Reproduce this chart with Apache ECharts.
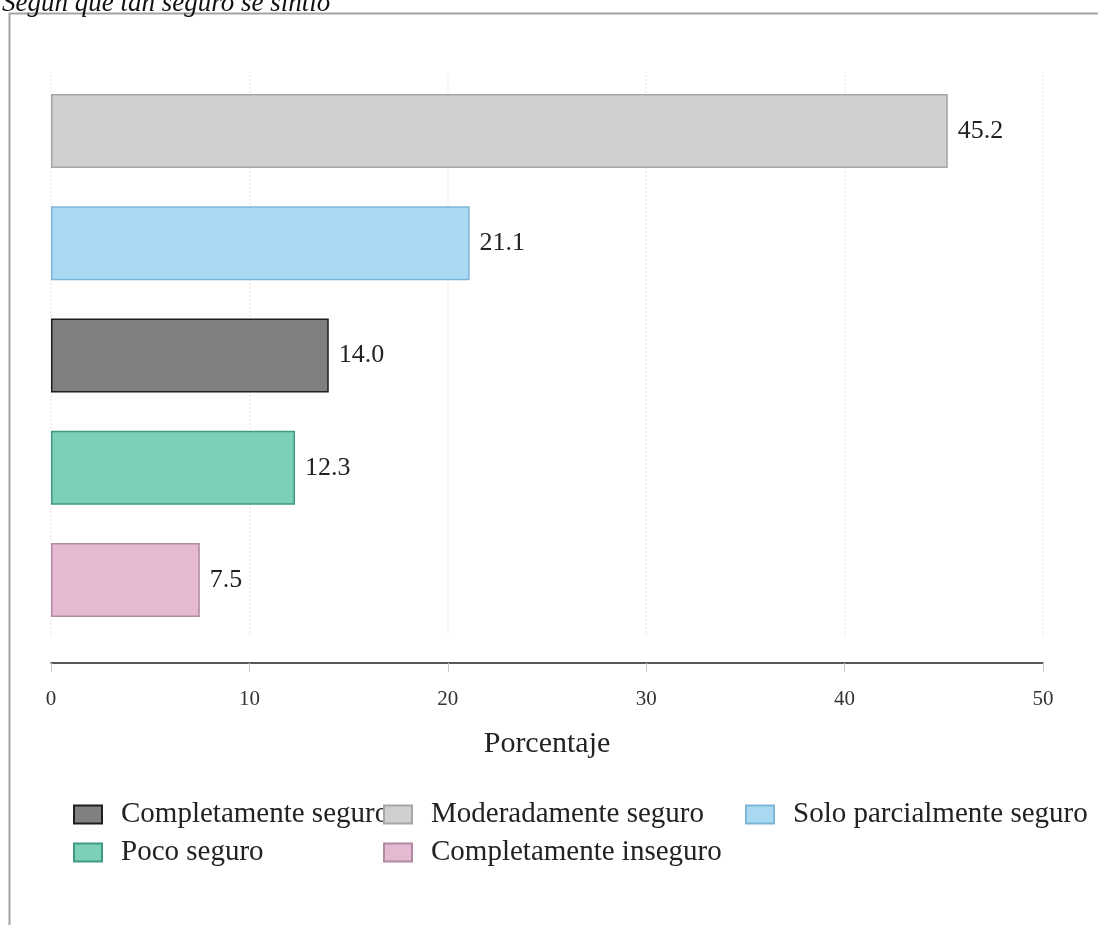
<!DOCTYPE html>
<html>
<head>
<meta charset="utf-8">
<script src="https://cdn.jsdelivr.net/npm/echarts@6/dist/echarts.min.js"></script>
<style>
  html, body { margin: 0; padding: 0; background: #fff; }
  #chart { width: 1098px; height: 925px; }
</style>
</head>
<body>
<div id="chart"></div>
<script>
// categories from bottom to top
const categories = ["Completamente inseguro", "Poco seguro", "Completamente seguro", "Solo parcialmente seguro", "Moderadamente seguro"];
const values = [7.5, 12.3, 14.0, 21.1, 45.2];
const xTicks = [0, 10, 20, 30, 40, 50];
// legend order as in the picture
const legendOrder = ["Completamente seguro", "Moderadamente seguro", "Solo parcialmente seguro", "Poco seguro", "Completamente inseguro"];

const fills = {
  "Completamente seguro": ["#808080", "#1e1e1e"],
  "Moderadamente seguro": ["#d0d0d0", "#a6a6a6"],
  "Solo parcialmente seguro": ["#a9d9f3", "#7db6d6"],
  "Poco seguro": ["#7dd0b8", "#3f9a80"],
  "Completamente inseguro": ["#e5b9d1", "#b08aa2"]
};

const FONT = "Liberation Serif";

// one series per category so every bar has its own legend entry
const series = categories.map(function (name, i) {
  return {
    name: name,
    type: "bar",
    stack: "all",
    barWidth: 74,
    data: categories.map(function (c, j) { return j === i ? values[i] : "-"; }),
    itemStyle: { color: fills[name][0], borderColor: fills[name][1], borderWidth: 1.5 },
    label: {
      show: true,
      position: "right",
      distance: 10,
      fontFamily: FONT,
      fontSize: 26,
      color: "#222",
      formatter: function (p) { return Number(p.value).toFixed(1); }
    }
  };
});

// legend items sit in fixed columns, text may run into the next icon
const legendPos = [[73, 800], [383, 800], [745, 800], [73, 838], [383, 838]];
const legends = legendOrder.map(function (name, i) {
  return {
    data: [name],
    left: legendPos[i][0],
    top: legendPos[i][1],
    padding: 0,
    icon: "rect",
    itemWidth: 28,
    itemHeight: 18,
    selectedMode: false,
    textStyle: { fontFamily: FONT, fontSize: 29, color: "#222", padding: [0, 0, 0, 14] }
  };
});

const chart = echarts.init(document.getElementById("chart"));
chart.setOption({
  animation: false,
  backgroundColor: "#fff",
  title: {
    text: "Según qué tan seguro se sintió",
    left: -3,
    top: -15,
    textStyle: { fontFamily: FONT, fontStyle: "italic", fontWeight: "normal", fontSize: 27, color: "#111" }
  },
  graphic: [{
    type: "rect",
    shape: { x: 9.5, y: 13.5, width: 1200, height: 1000 },
    style: { fill: "none", stroke: "#a3a3a3", lineWidth: 2 },
    silent: true
  }],
  legend: legends,
  grid: { left: 51, right: 55, top: 75, height: 561 },
  xAxis: {
    type: "value",
    min: xTicks[0],
    max: xTicks[xTicks.length - 1],
    interval: 10,
    offset: 27,
    name: "Porcentaje",
    nameLocation: "middle",
    nameGap: 66,
    nameTextStyle: { fontFamily: FONT, fontSize: 30, color: "#222" },
    axisLine: { show: true, lineStyle: { color: "#222", width: 1.5 } },
    axisTick: { show: true, length: 9, lineStyle: { color: "#c8c8c8" } },
    axisLabel: { fontFamily: FONT, fontSize: 21, color: "#333", margin: 26 },
    splitLine: { show: true, lineStyle: { color: "#f0f0f0", type: "dotted", width: 2 } }
  },
  yAxis: {
    type: "category",
    data: categories,
    show: false
  },
  series: series
});
</script>
</body>
</html>
